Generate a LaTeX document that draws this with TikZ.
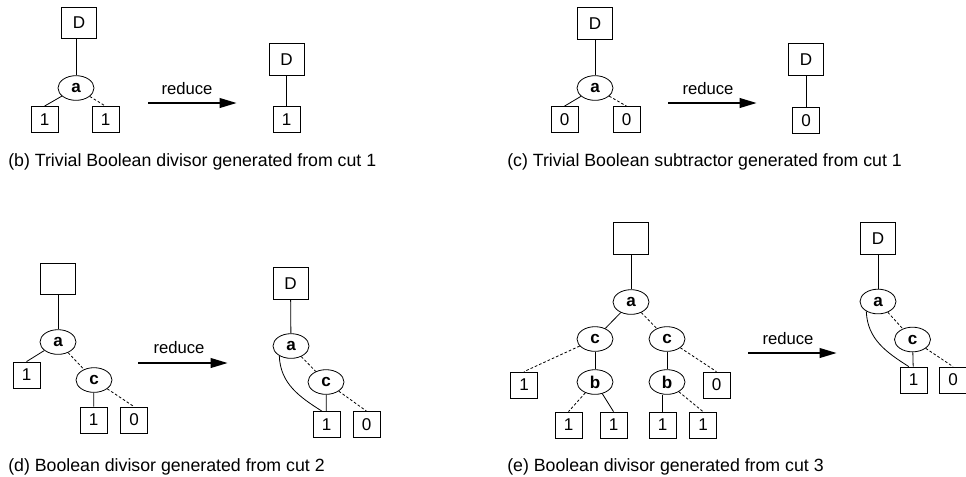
\documentclass[tikz,border=0pt]{standalone}
\usepackage{fontspec}
\setmainfont{Liberation Sans}
\usetikzlibrary{shapes.geometric,arrows.meta}
\begin{document}
\begin{tikzpicture}[x=0.75pt,y=-0.75pt,
  every node/.style={font=\fontsize{12.8}{14}\selectfont},
  leaf/.style={draw,rectangle,line width=0.6pt,minimum width=20.25pt,minimum height=19.5pt,inner sep=0pt},
  root/.style={draw,rectangle,line width=0.6pt,minimum width=26.25pt,minimum height=23.5pt,inner sep=0pt},
  var/.style={draw,ellipse,line width=0.6pt,minimum width=27pt,minimum height=18.5pt,inner sep=0pt,
    font=\fontsize{12.8}{14}\selectfont\bfseries},
  edge/.style={line width=0.6pt},
  dedge/.style={line width=0.6pt,dash pattern=on 2pt off 1.5pt},
  reducearrow/.style={line width=2pt,-{Triangle[length=13pt,width=7pt]}},
  lbl/.style={anchor=base,inner sep=0pt,font=\fontsize{12.5}{14}\selectfont},
  caption/.style={anchor=base west,inner sep=0pt,font=\fontsize{13.3}{15}\selectfont}
]
\useasboundingbox (0,0) rectangle (966,476);

% ---------- (b) trivial divisor ----------
\node[root] (b-D) at (79,23) {D};
\node[var]  (b-a) at (76,88) {a};
\node[leaf] (b-1l) at (44.5,119.5) {1};
\node[leaf] (b-1r) at (105.5,119.5) {1};
\draw[edge]  (b-a.north) -- (b-a.north |- b-D.south);
\draw[edge]  (b-a) -- (b-1l.north);
\draw[dedge] (b-a) -- (b-1r.north);
\coordinate (b-s) at (148,103);
\coordinate (b-e) at (237,103);
\draw[reducearrow] (b-s) -- (b-e);
\node[lbl] (b-r) at (187,94) {reduce};
\node[root] (b-D2) at (286.5,59.5) {D};
\node[leaf] (b-12) at (286.5,119.5) {1};
\draw[edge] (b-D2) -- (b-12);
\node[caption] (b-cap) at (8,166) {(b) Trivial Boolean divisor generated from cut 1};

% ---------- (c) trivial subtractor ----------
\node[root] (c-D) at (595,23.5) {D};
\node[var]  (c-a) at (595,88) {a};
\node[leaf] (c-0l) at (564.5,119.5) {0};
\node[leaf] (c-0r) at (626.5,119.5) {0};
\draw[edge]  (c-D) -- (c-a);
\draw[edge]  (c-a) -- (c-0l.north);
\draw[dedge] (c-a) -- (c-0r.north);
\coordinate (c-s) at (668,103);
\coordinate (c-e) at (757,103);
\draw[reducearrow] (c-s) -- (c-e);
\node[lbl] (c-r) at (708,94) {reduce};
\node[root] (c-D2) at (806,59.5) {D};
\node[leaf] (c-02) at (806,120.5) {0};
\draw[edge] (c-D2) -- (c-02);
\node[caption] (c-cap) at (507,166) {(c) Trivial Boolean subtractor generated from cut 1};

% ---------- (d) divisor from cut 2 ----------
\node[root] (d-E) at (58,279) {};
\node[var]  (d-a) at (58,342) {a};
\node[leaf] (d-1) at (26.5,375) {1};
\node[var]  (d-c) at (94,380) {c};
\node[leaf] (d-1b) at (93.5,420) {1};
\node[leaf] (d-0) at (134,420) {0};
\draw[edge]  (d-E) -- (d-a);
\draw[edge]  (d-a) -- (d-1.north);
\draw[dedge] (d-a) -- (d-c);
\draw[edge]  (d-c) -- (d-1b);
\draw[dedge] (d-c) -- (d-0.north);
\coordinate (d-s) at (138,363);
\coordinate (d-e) at (228,363);
\draw[reducearrow] (d-s) -- (d-e);
\node[lbl] (d-r) at (179,353) {reduce};
\node[root] (d-D2) at (290.5,283.5) {D};
\node[var]  (d-a2) at (291,346) {a};
\node[var]  (d-c2) at (326,382) {c};
\node[leaf] (d-12) at (326.5,424.5) {1};
\node[leaf] (d-02) at (366.5,424.5) {0};
\draw[edge]  (d-D2) -- (d-a2);
\draw[dedge] (d-a2) -- (d-c2);
\draw[edge]  (d-c2) -- (d-12);
\draw[dedge] (d-c2) -- (d-02.north);
\draw[edge]  (d-a2.220) .. controls +(1,28) and +(-22,-14) .. ([xshift=-3.5pt]d-12.north);
\node[caption] (d-cap) at (8,471.7) {(d) Boolean divisor generated from cut 2};

% ---------- (e) divisor from cut 3 ----------
\node[root] (e-E) at (631,238.5) {};
\node[var]  (e-a) at (631,302) {a};
\node[var]  (e-cl) at (595,339) {c};
\node[var]  (e-cr) at (667,339) {c};
\node[leaf] (e-1) at (524,385) {1};
\node[leaf] (e-0) at (716.5,385) {0};
\node[var]  (e-bl) at (595,382) {b};
\node[var]  (e-br) at (667,382) {b};
\node[leaf] (e-l1) at (568.5,425) {1};
\node[leaf] (e-l2) at (613.5,425) {1};
\node[leaf] (e-l3) at (662.5,425) {1};
\node[leaf] (e-l4) at (703,425) {1};
\draw[edge]  (e-E) -- (e-a);
\draw[edge]  (e-a) -- (e-cl);
\draw[dedge] (e-a) -- (e-cr);
\draw[dedge] (e-cl) -- (e-1.north);
\draw[edge]  (e-cl) -- (e-bl);
\draw[edge]  (e-cr) -- (e-br);
\draw[dedge] (e-cr) -- (e-0.north);
\draw[dedge] (e-bl) -- (e-l1.north);
\draw[edge]  (e-bl) -- (e-l2.north);
\draw[edge]  (e-l3.north) -- (e-l3.north |- e-br.south);
\draw[dedge] (e-br) -- (e-l4.north);
\coordinate (e-s) at (748,353);
\coordinate (e-e) at (837,353);
\draw[reducearrow] (e-s) -- (e-e);
\node[lbl] (e-r) at (788,344) {reduce};
\node[root] (e-D2) at (878,238.5) {D};
\node[var]  (e-a2) at (878,301.5) {a};
\node[var]  (e-c2) at (912.5,339.5) {c};
\node[leaf] (e-12) at (913.5,380) {1};
\node[leaf] (e-02) at (953,380) {0};
\draw[edge]  (e-D2) -- (e-a2);
\draw[dedge] (e-a2) -- (e-c2);
\draw[edge]  (e-c2) -- (e-12);
\draw[dedge] (e-c2) -- (e-02.north);
\draw[edge]  (e-a2.220) .. controls +(1,28) and +(-22,-14) .. ([xshift=-3.5pt]e-12.north);
\node[caption] (e-cap) at (507,471.7) {(e) Boolean divisor generated from cut 3};
\end{tikzpicture}
\end{document}
